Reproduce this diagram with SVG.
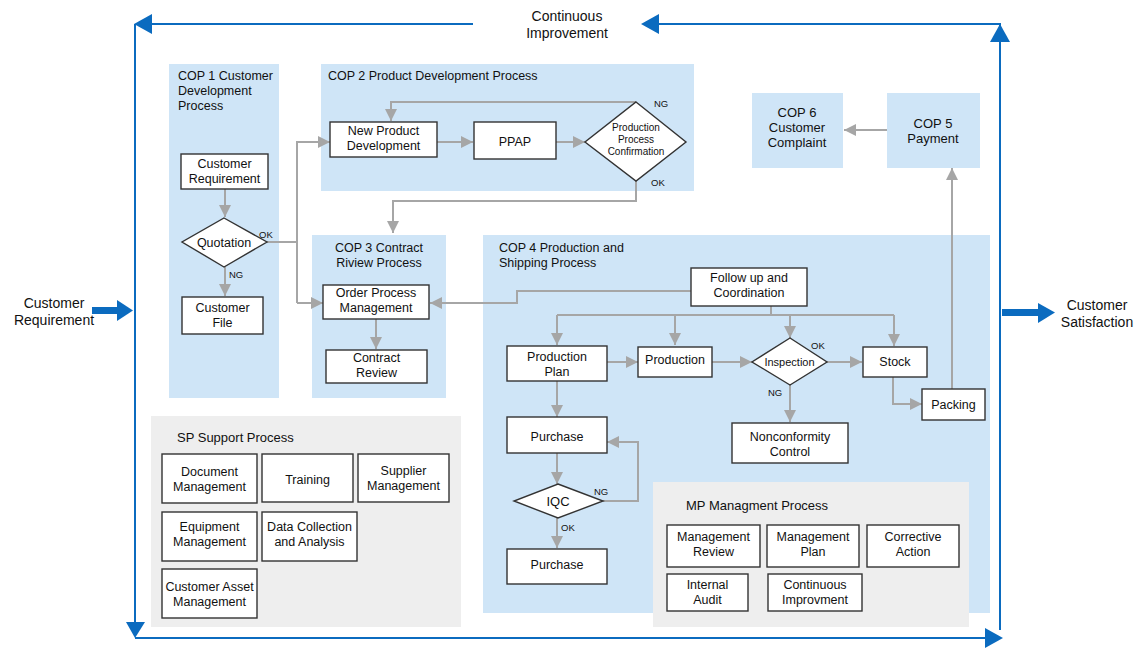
<svg xmlns="http://www.w3.org/2000/svg" width="1140" height="650" viewBox="0 0 1140 650">
<style>
text{font-family:"Liberation Sans",Arial,sans-serif;fill:#111;font-size:12.5px}
.m{text-anchor:middle}
.t13{font-size:13px}
.t14{font-size:14px}
.s{font-size:9.5px}
.pc{font-size:10px}
.area{fill:#cfe5f7}
.gray{fill:#eeeeee}
.box{fill:#fff;stroke:#333;stroke-width:1.4}
.con{fill:none;stroke:#a6a6a6;stroke-width:2}
.blue{fill:none;stroke:#0b6bbf;stroke-width:2}
.bf{fill:#0b6bbf}
</style>
<defs>
<marker id="ah" viewBox="0 0 12 12" refX="12" refY="6" markerWidth="12" markerHeight="12" markerUnits="userSpaceOnUse" orient="auto">
<path d="M0,0 L12,6 L0,12 z" fill="#a6a6a6"/>
</marker>
</defs>
<rect width="1140" height="650" fill="#fff"/>

<!-- frame -->
<g id="frame">
<path class="blue" d="M150,24 H473"/>
<path class="blue" d="M658,24 H1000 V630"/>
<path class="blue" d="M135,24 V622"/>
<path class="blue" d="M135,638 H986"/>
<polygon class="bf" points="134,24 152,14 152,34"/>
<polygon class="bf" points="641,24 659,14 659,34"/>
<polygon class="bf" points="1000,24 990,42 1010,42"/>
<polygon class="bf" points="135,638 126,622 145,622"/>
<polygon class="bf" points="1003,638 985,628 985,648"/>
<text class="m t14" x="567" y="21">Continuous</text>
<text class="m t14" x="567" y="38">Improvement</text>
</g>

<g id="input">
<rect class="bf" x="92" y="307" width="26" height="7"/>
<polygon class="bf" points="117,300 133,310.5 117,321"/>
<text class="m t14" x="54" y="308">Customer</text>
<text class="m t14" x="54" y="325">Requirement</text>
</g>
<g id="output">
<rect class="bf" x="1002" y="309" width="37" height="7"/>
<polygon class="bf" points="1038,303 1055,312.5 1038,323"/>
<text class="m t14" x="1097" y="310">Customer</text>
<text class="m t14" x="1097" y="327">Satisfaction</text>
</g>

<!-- areas -->
<g id="cop1">
<rect class="area" x="169" y="64" width="110" height="334"/>
<text x="178" y="80">COP 1 Customer</text>
<text x="178" y="95">Development</text>
<text x="178" y="110">Process</text>
</g>
<g id="cop2">
<rect class="area" x="321" y="64" width="373" height="127"/>
<text x="328" y="80">COP 2 Product Development Process</text>
</g>
<g id="cop3">
<rect class="area" x="312" y="235" width="134" height="163"/>
<text class="m" x="379" y="252">COP 3 Contract</text>
<text class="m" x="379" y="267">Riview Process</text>
</g>
<g id="cop4">
<rect class="area" x="483" y="235" width="507" height="378"/>
<text x="499" y="252">COP 4 Production and</text>
<text x="499" y="267">Shipping Process</text>
</g>
<g id="cop5">
<rect class="area" x="887" y="93" width="93" height="75"/>
<text class="m t13" x="933" y="127.5">COP 5</text>
<text class="m t13" x="933" y="142.5">Payment</text>
</g>
<g id="cop6">
<rect class="area" x="752" y="93" width="91" height="75"/>
<text class="m t13" x="797" y="116.5">COP 6</text>
<text class="m t13" x="797" y="131.5">Customer</text>
<text class="m t13" x="797" y="146.5">Complaint</text>
</g>
<g id="sp">
<rect class="gray" x="151" y="416" width="310" height="211"/>
<text class="t13" x="177" y="442">SP Support Process</text>
</g>
<g id="mp">
<rect class="gray" x="653" y="482" width="316" height="145"/>
<text class="t13" x="686" y="510">MP Managment Process</text>
</g>

<!-- connectors -->
<g id="connectors">
<path class="con" d="M225,189 V217" marker-end="url(#ah)"/>
<path class="con" d="M225,267 V296" marker-end="url(#ah)"/>
<path class="con" d="M267,242 H297"/>
<path class="con" d="M297,303 V142 H330" marker-end="url(#ah)"/>
<path class="con" d="M297,303 H323" marker-end="url(#ah)"/>
<path class="con" d="M437,142 H473" marker-end="url(#ah)"/>
<path class="con" d="M556,142 H585" marker-end="url(#ah)"/>
<path class="con" d="M636,102 H391 V121" marker-end="url(#ah)"/>
<path class="con" d="M636,181 V201 H393 V233" marker-end="url(#ah)"/>
<path class="con" d="M376,319 V349" marker-end="url(#ah)"/>
<path class="con" d="M691,291 H517 V303 H430" marker-end="url(#ah)"/>
<path class="con" d="M771,306 V315"/>
<path class="con" d="M557,315 H894"/>
<path class="con" d="M557,315 V345" marker-end="url(#ah)"/>
<path class="con" d="M675,315 V345" marker-end="url(#ah)"/>
<path class="con" d="M790,315 V338" marker-end="url(#ah)"/>
<path class="con" d="M894,315 V346" marker-end="url(#ah)"/>
<path class="con" d="M607,362 H638" marker-end="url(#ah)"/>
<path class="con" d="M712,362 H752" marker-end="url(#ah)"/>
<path class="con" d="M827,362 H862" marker-end="url(#ah)"/>
<path class="con" d="M893,377 V404 H922" marker-end="url(#ah)"/>
<path class="con" d="M952,389 V168" marker-end="url(#ah)"/>
<path class="con" d="M887,130 H844" marker-end="url(#ah)"/>
<path class="con" d="M790,385 V422" marker-end="url(#ah)"/>
<path class="con" d="M557,381 V417" marker-end="url(#ah)"/>
<path class="con" d="M557,453 V484" marker-end="url(#ah)"/>
<path class="con" d="M603,501 H638 V442 H607" marker-end="url(#ah)"/>
<path class="con" d="M557,518 V548" marker-end="url(#ah)"/>
</g>

<!-- COP1 nodes -->
<g id="customer-requirement">
<rect class="box" x="181" y="154" width="87" height="35"/>
<text class="m" x="224.5" y="167.5">Customer</text>
<text class="m" x="224.5" y="183">Requirement</text>
</g>
<g id="quotation">
<polygon class="box" points="224,218 267,242 224,267 182,242"/>
<text class="m" x="224" y="246.5">Quotation</text>
<text class="s" x="259" y="238">OK</text>
<text class="s" x="229" y="278">NG</text>
</g>
<g id="customer-file">
<rect class="box" x="182" y="297" width="81" height="37"/>
<text class="m" x="222.5" y="312">Customer</text>
<text class="m" x="222.5" y="327">File</text>
</g>

<!-- COP2 nodes -->
<g id="new-product-development">
<rect class="box" x="330" y="122" width="107" height="35"/>
<text class="m" x="383.5" y="135">New Product</text>
<text class="m" x="383.5" y="150">Development</text>
</g>
<g id="ppap">
<rect class="box" x="474" y="122" width="82" height="37"/>
<text class="m" x="515" y="145.5">PPAP</text>
</g>
<g id="production-process-confirmation">
<polygon class="box" points="636,102 686,142 636,181 585,142"/>
<text class="m pc" x="636" y="130.5">Production</text>
<text class="m pc" x="636" y="143">Process</text>
<text class="m pc" x="636" y="155">Confirmation</text>
<text class="s" x="654" y="107">NG</text>
<text class="s" x="651" y="186">OK</text>
</g>

<!-- COP3 nodes -->
<g id="order-process-management">
<rect class="box" x="323" y="285" width="106" height="34"/>
<text class="m" x="376" y="297">Order Process</text>
<text class="m" x="376" y="312">Management</text>
</g>
<g id="contract-review">
<rect class="box" x="326" y="350" width="101" height="33"/>
<text class="m" x="376.5" y="362">Contract</text>
<text class="m" x="376.5" y="377">Review</text>
</g>

<!-- COP4 nodes -->
<g id="follow-up">
<rect class="box" x="691" y="268" width="116" height="38"/>
<text class="m" x="749" y="282">Follow up and</text>
<text class="m" x="749" y="297">Coordination</text>
</g>
<g id="production-plan">
<rect class="box" x="507" y="346" width="100" height="35"/>
<text class="m" x="557" y="361">Production</text>
<text class="m" x="557" y="376">Plan</text>
</g>
<g id="production">
<rect class="box" x="638" y="347" width="74" height="30"/>
<text class="m" x="675" y="364">Production</text>
</g>
<g id="inspection">
<polygon class="box" points="790,338 827,362 790,385 752,362"/>
<text class="m" x="789.5" y="365.5" style="font-size:11px">Inspection</text>
<text class="s" x="811" y="349">OK</text>
<text class="s" x="768" y="396">NG</text>
</g>
<g id="stock">
<rect class="box" x="863" y="347" width="64" height="30"/>
<text class="m" x="895" y="366">Stock</text>
</g>
<g id="packing">
<rect class="box" x="922" y="389" width="63" height="31"/>
<text class="m" x="953.5" y="408.5">Packing</text>
</g>
<g id="nonconformity-control">
<rect class="box" x="732" y="423" width="116" height="40"/>
<text class="m" x="790" y="441">Nonconformity</text>
<text class="m" x="790" y="456">Control</text>
</g>
<g id="purchase">
<rect class="box" x="507" y="417" width="100" height="36"/>
<text class="m" x="557" y="440.5">Purchase</text>
</g>
<g id="iqc">
<polygon class="box" points="558,484 603,501 558,518 514,501"/>
<text class="m t13" x="558" y="506">IQC</text>
<text class="s" x="594" y="495">NG</text>
<text class="s" x="561" y="531">OK</text>
</g>
<g id="purchase-2">
<rect class="box" x="507" y="549" width="100" height="35"/>
<text class="m" x="557" y="568.5">Purchase</text>
</g>

<!-- SP nodes -->
<g id="document-management">
<rect class="box" x="162" y="454" width="95" height="49"/>
<text class="m" x="209.5" y="476">Document</text>
<text class="m" x="209.5" y="491">Management</text>
</g>
<g id="training">
<rect class="box" x="262" y="454" width="91" height="48"/>
<text class="m" x="307.5" y="484">Training</text>
</g>
<g id="supplier-management">
<rect class="box" x="358" y="454" width="91" height="48"/>
<text class="m" x="403.5" y="475">Supplier</text>
<text class="m" x="403.5" y="490">Management</text>
</g>
<g id="equipment-management">
<rect class="box" x="162" y="512" width="95" height="49"/>
<text class="m" x="209.5" y="531">Equipment</text>
<text class="m" x="209.5" y="546">Management</text>
</g>
<g id="data-collection">
<rect class="box" x="262" y="512" width="95" height="49"/>
<text class="m" x="309.5" y="531">Data Collection</text>
<text class="m" x="309.5" y="546">and Analysis</text>
</g>
<g id="customer-asset-management">
<rect class="box" x="162" y="569" width="95" height="49"/>
<text class="m" x="209.5" y="591">Customer Asset</text>
<text class="m" x="209.5" y="606">Management</text>
</g>

<!-- MP nodes -->
<g id="management-review">
<rect class="box" x="667" y="525" width="93" height="42"/>
<text class="m" x="713.5" y="541">Management</text>
<text class="m" x="713.5" y="556">Review</text>
</g>
<g id="management-plan">
<rect class="box" x="767" y="525" width="92" height="42"/>
<text class="m" x="813" y="541">Management</text>
<text class="m" x="813" y="556">Plan</text>
</g>
<g id="corrective-action">
<rect class="box" x="867" y="525" width="92" height="42"/>
<text class="m" x="913" y="541">Corrective</text>
<text class="m" x="913" y="556">Action</text>
</g>
<g id="internal-audit">
<rect class="box" x="667" y="574" width="81" height="37"/>
<text class="m" x="707.5" y="589">Internal</text>
<text class="m" x="707.5" y="604">Audit</text>
</g>
<g id="continuous-improvment">
<rect class="box" x="768" y="574" width="94" height="37"/>
<text class="m" x="815" y="589">Continuous</text>
<text class="m" x="815" y="604">Improvment</text>
</g>
</svg>
